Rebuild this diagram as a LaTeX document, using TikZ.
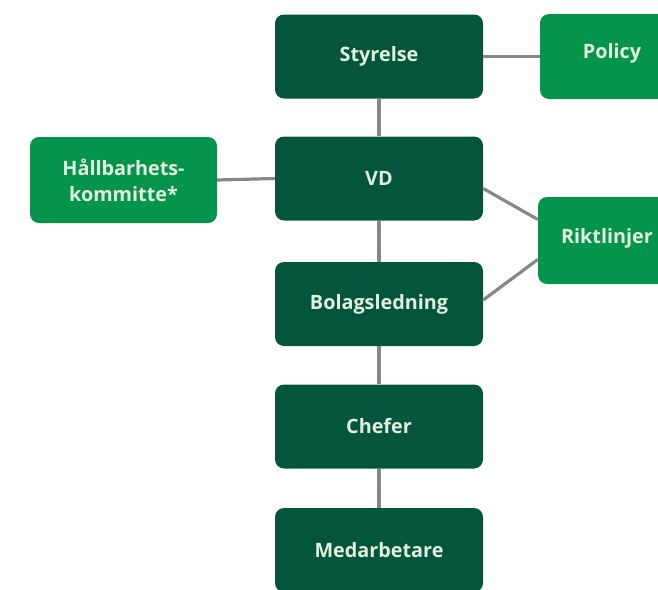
\documentclass[tikz,border=0pt]{standalone}
\usepackage{fontspec}
\setmainfont{Open Sans}
\definecolor{darkg}{RGB}{3,86,60}
\definecolor{lightg}{RGB}{4,148,75}
\definecolor{txt}{RGB}{226,238,222}
\definecolor{conn}{RGB}{135,135,138}
\begin{document}
\begin{tikzpicture}[x=1pt,y=-1pt,
  lbl/.style={text=txt, font=\fontsize{19.8}{26}\selectfont\bfseries, align=center, inner sep=0pt},
  box/.style={lbl, rounded corners=9pt},
  mainbox/.style={box, fill=darkg, minimum width=208pt, minimum height=84pt},
  sidebox/.style={box, fill=lightg},
  link/.style={draw=conn, line width=3.2pt}]
\useasboundingbox (0,0) rectangle (658,589);
\begin{scope}
\clip (0,0) rectangle (658,589);
\node[mainbox] (sty) at (379,56.5) {Styrelse};
\node[mainbox] (vd) at (379,178.5) {VD};
\node[mainbox] (bol) at (379,304) {Bolagsledning};
\node[mainbox] (che) at (379,426.5) {Chefer};
\node[mainbox] (med) at (379,550) {Medarbetare};
\node[sidebox, minimum width=144pt, minimum height=85pt] (pol) at (612,56.5) {};
\node[lbl] (poltxt) at (612,53) {Policy};
\node[sidebox, minimum width=187pt, minimum height=86pt] (hal) at (123.5,180) {Hållbarhets-\\kommitte*};
\node[sidebox, minimum width=138pt, minimum height=87pt] (rik) at (607,240.5) {};
\node[lbl] (riktxt) at (607,238) {Riktlinjer};
\draw[link] (sty.south) -- (vd.north);
\draw[link] (vd.south) -- (bol.north);
\draw[link] (bol.south) -- (che.north);
\draw[link] (che.south) -- (med.north);
\draw[link] (sty.east) -- (pol.west);
\draw[link] (hal.east) -- (vd.west);
\draw[link] ([yshift=-10pt]vd.east) -- ([yshift=21pt]rik.west);
\draw[link] ([yshift=4pt]bol.east) -- ([yshift=-19pt]rik.west);
\end{scope}
\end{tikzpicture}
\end{document}
